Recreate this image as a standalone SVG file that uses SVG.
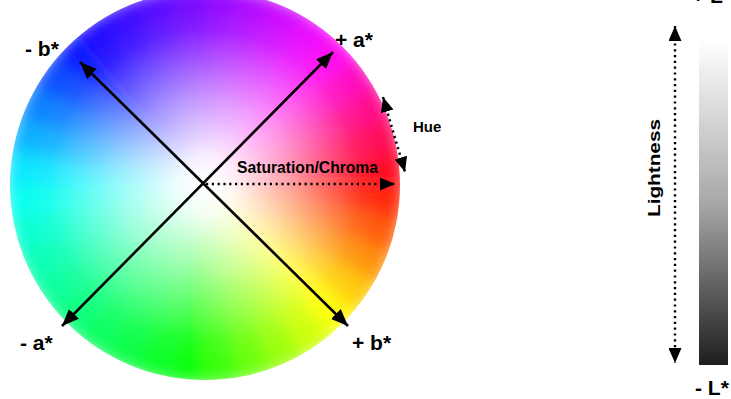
<svg xmlns="http://www.w3.org/2000/svg" width="731" height="399" viewBox="0 0 731 399">
<style>
.lbl{font-family:"Liberation Sans",Arial,sans-serif;font-weight:bold;fill:#000}
.ax{stroke:#000;stroke-width:2.6;fill:none}
.dot{stroke:#000;stroke-width:2.4;fill:none;stroke-dasharray:2.2 3.6}
</style>
<defs>
<marker id="ah" viewBox="0 0 17 14" refX="17" refY="7" markerWidth="17" markerHeight="14" markerUnits="userSpaceOnUse" orient="auto-start-reverse"><path d="M0,0 L17,7 L0,14 z" fill="#000"/></marker>
<marker id="ah2" viewBox="0 0 15 13" refX="15" refY="6.5" markerWidth="15" markerHeight="13" markerUnits="userSpaceOnUse" orient="auto-start-reverse"><path d="M0,0 L15,6.5 L0,13 z" fill="#000"/></marker>
<clipPath id="wheelClip"><circle cx="205" cy="185" r="195"/></clipPath>
<filter id="soft" x="-10%" y="-10%" width="120%" height="120%"><feGaussianBlur stdDeviation="9"/></filter>
<radialGradient id="whiteOv" cx="205" cy="185" r="195" gradientUnits="userSpaceOnUse">
<stop offset="0" stop-color="#fff" stop-opacity="1"/>
<stop offset="0.15" stop-color="#fff" stop-opacity="0.93"/>
<stop offset="0.45" stop-color="#fff" stop-opacity="0.58"/>
<stop offset="0.8" stop-color="#fff" stop-opacity="0.12"/>
<stop offset="1" stop-color="#fff" stop-opacity="0"/>
</radialGradient>
<linearGradient id="lgrad" x1="0" y1="0" x2="0" y2="1">
<stop offset="0" stop-color="#ffffff"/>
<stop offset="0.5" stop-color="#a8a8a8"/>
<stop offset="1" stop-color="#1e1e1e"/>
</linearGradient>
</defs>
<rect width="731" height="399" fill="#fff"/>
<g id="colorWheel" clip-path="url(#wheelClip)">
<g filter="url(#soft)">
<polygon points="205,185 405,185 401.96,219.73" fill="hsl(7,100%,50%)"/>
<polygon points="205,185 401.96,219.73 392.94,253.4" fill="hsl(20,100%,50%)"/>
<polygon points="205,185 392.94,253.4 378.21,285" fill="hsl(33,100%,50%)"/>
<polygon points="205,185 378.21,285 358.21,313.56" fill="hsl(47,100%,50%)"/>
<polygon points="205,185 358.21,313.56 333.56,338.21" fill="hsl(60,100%,50%)"/>
<polygon points="205,185 333.56,338.21 305,358.21" fill="hsl(72,100%,50%)"/>
<polygon points="205,185 305,358.21 273.4,372.94" fill="hsl(84,100%,50%)"/>
<polygon points="205,185 273.4,372.94 239.73,381.96" fill="hsl(96,100%,50%)"/>
<polygon points="205,185 239.73,381.96 205,385" fill="hsl(108,100%,50%)"/>
<polygon points="205,185 205,385 170.27,381.96" fill="hsl(120,100%,50%)"/>
<polygon points="205,185 170.27,381.96 136.6,372.94" fill="hsl(127,100%,50%)"/>
<polygon points="205,185 136.6,372.94 105,358.21" fill="hsl(134,100%,50%)"/>
<polygon points="205,185 105,358.21 76.44,338.21" fill="hsl(141,100%,50%)"/>
<polygon points="205,185 76.44,338.21 51.79,313.56" fill="hsl(148,100%,50%)"/>
<polygon points="205,185 51.79,313.56 31.79,285" fill="hsl(155,100%,50%)"/>
<polygon points="205,185 31.79,285 17.06,253.4" fill="hsl(162,100%,50%)"/>
<polygon points="205,185 17.06,253.4 8.04,219.73" fill="hsl(169,100%,50%)"/>
<polygon points="205,185 8.04,219.73 5,185" fill="hsl(176,100%,50%)"/>
<polygon points="205,185 5,185 8.04,150.27" fill="hsl(186,100%,50%)"/>
<polygon points="205,185 8.04,150.27 17.06,116.6" fill="hsl(199,100%,50%)"/>
<polygon points="205,185 17.06,116.6 31.79,85" fill="hsl(211,100%,50%)"/>
<polygon points="205,185 31.79,85 51.79,56.44" fill="hsl(224,100%,50%)"/>
<polygon points="205,185 51.79,56.44 76.44,31.79" fill="hsl(236,100%,50%)"/>
<polygon points="205,185 76.44,31.79 105,11.79" fill="hsl(245,100%,50%)"/>
<polygon points="205,185 105,11.79 136.6,-2.94" fill="hsl(252,100%,50%)"/>
<polygon points="205,185 136.6,-2.94 170.27,-11.96" fill="hsl(259,100%,50%)"/>
<polygon points="205,185 170.27,-11.96 205,-15" fill="hsl(266,100%,50%)"/>
<polygon points="205,185 205,-15 239.73,-11.96" fill="hsl(274,100%,50%)"/>
<polygon points="205,185 239.73,-11.96 273.4,-2.94" fill="hsl(281,100%,50%)"/>
<polygon points="205,185 273.4,-2.94 305,11.79" fill="hsl(288,100%,50%)"/>
<polygon points="205,185 305,11.79 333.56,31.79" fill="hsl(295,100%,50%)"/>
<polygon points="205,185 333.56,31.79 358.21,56.44" fill="hsl(304,100%,50%)"/>
<polygon points="205,185 358.21,56.44 378.21,85" fill="hsl(316,100%,50%)"/>
<polygon points="205,185 378.21,85 392.94,116.6" fill="hsl(329,100%,50%)"/>
<polygon points="205,185 392.94,116.6 401.96,150.27" fill="hsl(341,100%,50%)"/>
<polygon points="205,185 401.96,150.27 405,185" fill="hsl(354,100%,50%)"/>
</g>
<circle cx="205" cy="185" r="196" fill="url(#whiteOv)"/>
</g>
<g id="lightnessBar"><rect x="699" y="40" width="29" height="325" fill="url(#lgrad)"/></g>
<g id="connectors">
<line class="ax" x1="62" y1="326" x2="333" y2="52" marker-start="url(#ah)" marker-end="url(#ah)"/>
<line class="ax" x1="80" y1="62" x2="348" y2="326" marker-start="url(#ah)" marker-end="url(#ah)"/>
<line class="dot" x1="206" y1="184" x2="395" y2="184" marker-end="url(#ah2)"/>
<line class="dot" x1="383" y1="97" x2="405" y2="172" marker-start="url(#ah2)" marker-end="url(#ah2)"/>
<line class="dot" x1="675" y1="26" x2="675" y2="363" stroke-dasharray="2 2" marker-start="url(#ah2)" marker-end="url(#ah2)"/>
</g>
<g id="labels">
<text class="lbl" x="335" y="47" font-size="21">+ a*</text>
<text class="lbl" x="25" y="56" font-size="21">- b*</text>
<text class="lbl" x="20" y="350" font-size="21">- a*</text>
<text class="lbl" x="352" y="350" font-size="21">+ b*</text>
<text class="lbl" x="413" y="132" font-size="15">Hue</text>
<text class="lbl" x="237" y="173" font-size="16" textLength="141" lengthAdjust="spacingAndGlyphs">Saturation/Chroma</text>
<text class="lbl" font-size="17" text-anchor="middle" transform="translate(660,168) rotate(-90)" textLength="98" lengthAdjust="spacingAndGlyphs">Lightness</text>
<text class="lbl" x="695" y="395" font-size="21">- L*</text>
<text class="lbl" x="692" y="3" font-size="21">+ L*</text>
</g>
</svg>
